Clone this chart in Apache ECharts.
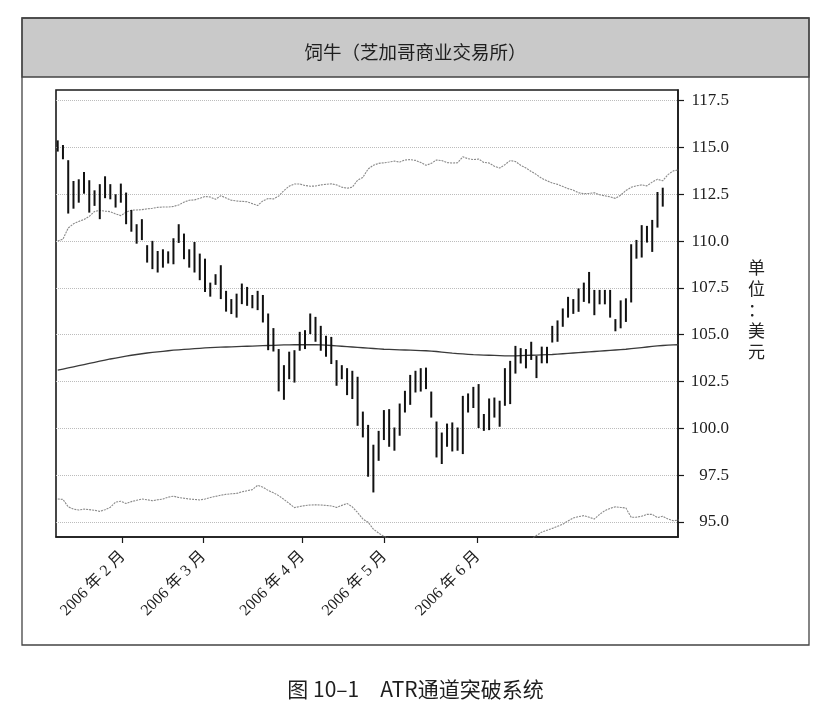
<!DOCTYPE html>
<html><head><meta charset="utf-8">
<script src="https://cdn.jsdelivr.net/npm/echarts@6/dist/echarts.min.js"></script>
<style>html,body{margin:0;padding:0;background:#fff}#c{width:831px;height:703px}</style>
</head><body><div id="c"></div>
<script>
const chartTitle = '饲牛（芝加哥商业交易所）';
const caption = '图 10–1　ATR通道突破系统';
const unitLabel = '单位：美元';

const highs = [
115.38,115.13,114.32,113.21,113.30,113.69,113.25,112.71,113.04,113.46,
113.04,112.50,113.07,112.59,111.66,110.90,111.17,109.78,110.01,109.47,
109.56,109.45,110.15,110.90,110.40,109.56,109.95,109.33,109.06,107.78,
108.23,108.71,107.34,106.90,107.19,107.73,107.55,107.12,107.34,107.12,
106.13,105.35,104.23,103.37,104.09,104.17,105.15,105.24,106.13,105.95,
105.47,104.94,104.88,103.64,103.37,103.21,103.07,102.75,100.89,100.18,
99.12,99.86,100.97,101.02,100.04,101.32,102.00,102.85,103.07,103.21,
103.24,101.96,100.36,99.77,100.25,100.31,100.04,101.73,101.86,102.21,
102.36,100.76,101.59,101.64,101.47,103.21,103.60,104.40,104.28,104.23,
104.62,103.87,104.36,104.35,105.47,105.76,106.40,107.02,106.90,107.47,
107.78,108.35,107.39,107.39,107.39,107.39,105.83,106.83,106.94,109.83,
110.06,110.85,110.81,111.13,112.62,112.85];

const lows = [
114.78,114.37,111.47,111.73,112.05,112.53,111.52,111.88,111.17,112.29,
112.23,111.79,112.05,110.90,110.50,109.86,110.05,108.85,108.50,108.32,
108.58,108.80,108.76,109.90,109.03,108.58,108.32,107.91,107.28,107.03,
107.66,106.90,106.23,106.10,105.91,106.63,106.54,106.41,106.31,105.65,
104.17,104.10,101.97,101.52,102.62,102.44,104.14,104.23,105.03,104.62,
104.14,103.82,103.43,102.27,102.62,101.77,101.56,100.13,99.51,97.41,
96.57,98.26,99.37,99.01,98.80,99.60,100.84,101.25,101.91,101.96,
102.09,100.57,98.44,98.09,99.01,98.76,98.80,98.62,100.84,101.08,
100.01,99.86,99.90,100.57,100.08,101.20,101.29,102.92,103.46,103.20,
103.65,102.68,103.47,103.47,104.58,104.62,105.42,105.91,106.11,106.22,
106.75,106.67,106.04,106.62,106.62,105.91,105.18,105.34,105.68,106.72,
109.06,109.12,109.92,109.42,110.72,111.84];

const upperBand = [
110.0,110.1,110.7,110.92,111.05,111.15,111.32,111.58,111.64,111.6,
111.57,111.45,111.36,111.54,111.65,111.66,111.68,111.72,111.75,111.8,
111.82,111.82,111.85,111.93,112.08,112.18,112.2,112.28,112.38,112.35,
112.23,112.42,112.3,112.18,112.14,112.12,112.1,112.0,111.9,112.15,
112.27,112.25,112.4,112.7,112.93,113.05,113.05,112.97,112.93,112.94,
113.0,113.03,113.06,113.0,112.88,112.82,112.88,113.25,113.4,113.85,
114.05,114.15,114.18,114.22,114.27,114.22,114.33,114.35,114.31,114.2,
114.05,114.15,114.33,114.3,114.19,114.17,114.18,114.5,114.4,114.35,
114.38,114.2,114.17,114.0,113.9,114.08,114.3,114.25,114.05,113.9,
113.72,113.55,113.35,113.22,113.1,113.03,112.92,112.8,112.72,112.58,
112.53,112.55,112.58,112.47,112.42,112.36,112.28,112.45,112.7,112.87,
112.95,113.0,112.95,113.15,113.3,113.22,113.55,113.75,113.8];

const movingAvg = [
103.10,103.16,103.22,103.28,103.34,103.40,103.46,103.52,103.58,103.64,
103.70,103.75,103.80,103.85,103.90,103.94,103.98,104.02,104.05,104.08,
104.11,104.14,104.17,104.19,104.21,104.23,104.25,104.27,104.29,104.31,
104.32,104.33,104.34,104.35,104.36,104.37,104.38,104.39,104.40,104.41,
104.42,104.43,104.44,104.45,104.45,104.46,104.46,104.46,104.46,104.46,
104.45,104.44,104.42,104.40,104.38,104.36,104.34,104.32,104.30,104.28,
104.26,104.24,104.22,104.21,104.20,104.19,104.18,104.17,104.16,104.15,
104.14,104.12,104.10,104.07,104.04,104.01,103.99,103.97,103.95,103.93,
103.92,103.91,103.90,103.89,103.88,103.87,103.87,103.87,103.88,103.89,
103.90,103.91,103.92,103.93,103.94,103.96,103.98,104.00,104.02,104.04,
104.06,104.08,104.10,104.12,104.14,104.16,104.18,104.20,104.22,104.25,
104.28,104.31,104.34,104.37,104.40,104.42,104.44,104.45,104.46];

const lowerBand = [
96.22,96.2,95.8,95.68,95.63,95.68,95.65,95.62,95.56,95.65,
95.78,96.05,96.1,95.98,96.08,96.15,96.22,96.18,96.13,96.18,
96.22,96.32,96.37,96.3,96.26,96.22,96.2,96.17,96.22,96.3,
96.36,96.42,96.47,96.5,96.52,96.6,96.66,96.72,96.95,96.85,
96.68,96.55,96.4,96.2,95.98,95.76,95.82,95.87,95.9,95.91,
95.9,95.88,95.85,95.77,95.88,95.98,95.8,95.5,95.15,94.98,
94.61,94.4,94.22,94.1,94.02,94.0,93.95,93.92,93.92,94.0,
94.05,93.98,93.87,93.85,93.9,93.85,93.8,93.45,93.5,93.5,
93.46,93.62,93.63,93.78,93.86,93.66,93.44,93.49,93.71,93.88,
94.08,94.27,94.45,94.55,94.65,94.76,94.87,95.05,95.2,95.28,
95.33,95.25,95.15,95.4,95.6,95.72,95.8,95.77,95.74,95.24,
95.25,95.3,95.4,95.4,95.23,95.3,95.15,95.06,95.09];

const monthTickPos = [12.36, 27.68, 46.49, 62.08, 79.83];
const monthLabels = ['2006 年 2 月', '2006 年 3 月', '2006 年 4 月', '2006 年 5 月', '2006 年 6 月'];
const yTicks = [95, 97.5, 100, 102.5, 105, 107.5, 110, 112.5, 115, 117.5];

const barData = highs.map((h, i) => [i, lows[i], h]);
const toXY = arr => arr.map((v, i) => [i, v]);

const chart = echarts.init(document.getElementById('c'), null, {renderer: 'canvas'});
const serif = '"Liberation Serif", "Noto Sans CJK SC", serif';
const cjk = '"Noto Sans CJK SC", sans-serif';

chart.setOption({
  animation: false,
  backgroundColor: '#ffffff',
  title: [
    {text: chartTitle, left: 'center', top: 38,
     textStyle: {fontFamily: cjk, fontSize: 18.5, fontWeight: 'normal', color: '#1e1e1e'}},
    {text: caption, left: 'center', top: 674,
     textStyle: {fontFamily: cjk, fontSize: 21, fontWeight: 'normal', color: '#1e1e1e'}}
  ],
  graphic: [
    {type: 'rect', shape: {x: 22, y: 18, width: 787, height: 59}, style: {fill: '#c9c9c9', stroke: '#444', lineWidth: 1.3}, z: 0},
    {type: 'rect', shape: {x: 22, y: 18, width: 787, height: 627}, style: {fill: 'none', stroke: '#444', lineWidth: 1.3}, z: 0},
    {type: 'text', left: 748, top: 257, style: {text: unitLabel.split('').join('\n'), font: '17px "Noto Sans CJK SC"', fill: '#222', lineHeight: 21}}
  ],
  grid: {left: 56, right: 153, top: 90, bottom: 166, show: true, borderColor: '#1a1a1a', borderWidth: 1.6, backgroundColor: 'transparent'},
  xAxis: {
    type: 'value', min: -0.323, max: 117.9,
    axisLine: {show: true, onZero: false, lineStyle: {color: '#1a1a1a', width: 1.5}},
    splitLine: {show: false},
    axisTick: {show: true, customValues: monthTickPos, length: 6, lineStyle: {color: '#1a1a1a', width: 1.2}},
    axisLabel: {
      customValues: monthTickPos, rotate: 45, margin: 17,
      fontFamily: serif, fontSize: 16, color: '#1e1e1e',
      formatter: v => {
        const k = monthTickPos.findIndex(p => Math.abs(p - v) < 0.01);
        return k >= 0 ? monthLabels[k] : '';
      }
    }
  },
  yAxis: {
    type: 'value', position: 'right', min: 94.19, max: 118.07,
    axisLine: {show: true, onZero: false, lineStyle: {color: '#1a1a1a', width: 1.5}},
    axisTick: {show: true, customValues: yTicks, length: 6, lineStyle: {color: '#1a1a1a', width: 1.2}},
    axisLabel: {customValues: yTicks, align: 'right', margin: 51, fontFamily: serif, fontSize: 17, color: '#1e1e1e',
      formatter: v => v.toFixed(1)},
    splitLine: {show: true, lineStyle: {color: '#bcbcbc', type: 'dotted', width: 1}}
  },
  series: [
    {type: 'line', name: 'upper', data: toXY(upperBand), symbol: 'none', clip: true,
     lineStyle: {color: '#8a8a8a', width: 1.1, type: [2, 1]}, z: 2},
    {type: 'line', name: 'ma', data: toXY(movingAvg), symbol: 'none', clip: true,
     lineStyle: {color: '#3a3a3a', width: 1.3}, z: 2},
    {type: 'line', name: 'lower', data: toXY(lowerBand), symbol: 'none', clip: true,
     lineStyle: {color: '#8a8a8a', width: 1.1, type: [2, 1]}, z: 2},
    {type: 'custom', name: 'bars', data: barData, clip: true, z: 3,
     encode: {x: 0, y: [1, 2]},
     renderItem: (params, api) => {
       const x = api.value(0);
       const a = api.coord([x, api.value(1)]);
       const b = api.coord([x, api.value(2)]);
       return {type: 'line', shape: {x1: a[0], y1: a[1], x2: b[0], y2: b[1]},
               style: {stroke: '#111', lineWidth: 2}};
     }}
  ]
});
</script>
</body></html>
